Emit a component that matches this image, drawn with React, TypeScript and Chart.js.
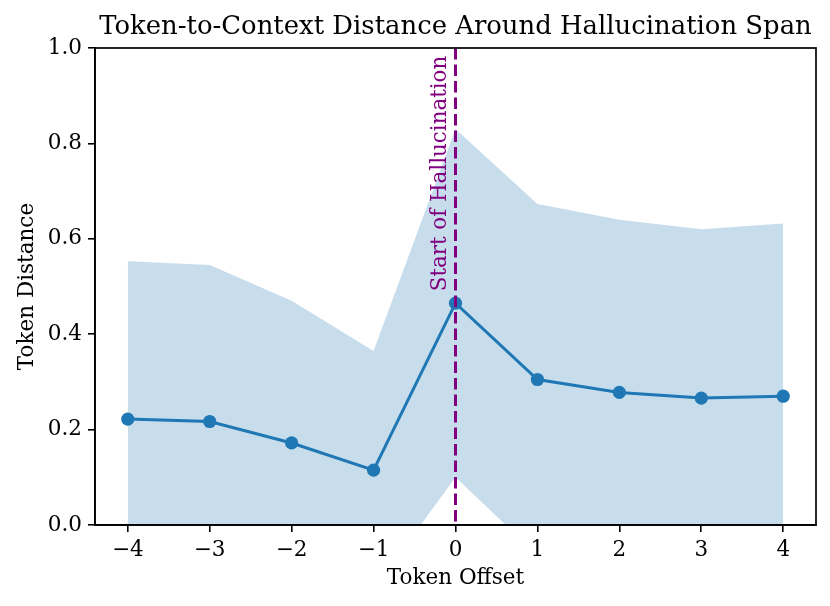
import React, { useEffect, useRef } from "react";
import { Chart, registerables } from "chart.js";

Chart.register(...registerables);

const offsets = [-4, -3, -2, -1, 0, 1, 2, 3, 4];
const meanValues = [0.222, 0.217, 0.172, 0.115, 0.465, 0.305, 0.278, 0.266, 0.27];
const upperValues = [0.553, 0.545, 0.47, 0.365, 0.83, 0.673, 0.64, 0.62, 0.632];
const lowerValues = [-0.109, -0.111, -0.126, -0.135, 0.1, -0.063, -0.084, -0.088, -0.092];
const yTicks = [0, 0.2, 0.4, 0.6, 0.8, 1.0];

const titleText = "Token-to-Context Distance Around Hallucination Span";
const xLabel = "Token Offset";
const yLabel = "Token Distance";
const markerLabel = "Start of Hallucination";
const markerAt = 0;

const FONT = "'DejaVu Serif', serif";
const BLUE = "#1f77b4";
const PURPLE = "#800080";

const W = 830;
const H = 606;

export default function App() {
  const ref = useRef<HTMLCanvasElement | null>(null);

  useEffect(() => {
    if (!ref.current) return;
    const pts = (vals: number[]) => offsets.map((x, i) => ({ x, y: vals[i] }));

    const decor = {
      id: "decor",
      afterDatasetsDraw(chart: any) {
        const { ctx, chartArea, scales } = chart;
        const xs = scales.x;
        const px = xs.getPixelForValue(markerAt);
        ctx.save();
        ctx.beginPath();
        ctx.rect(chartArea.left, chartArea.top, chartArea.right - chartArea.left, chartArea.bottom - chartArea.top);
        ctx.clip();
        ctx.strokeStyle = PURPLE;
        ctx.lineWidth = 3;
        ctx.setLineDash([11.5, 5]);
        ctx.beginPath();
        ctx.moveTo(px, chartArea.top);
        ctx.lineTo(px, chartArea.bottom);
        ctx.stroke();
        ctx.restore();

        ctx.save();
        ctx.translate(px - 15, scales.y.getPixelForValue(0.49));
        ctx.rotate(-Math.PI / 2);
        ctx.fillStyle = PURPLE;
        ctx.font = `21.4px ${FONT}`;
        ctx.textAlign = "left";
        ctx.textBaseline = "middle";
        ctx.fillText(markerLabel, 0, 0);
        ctx.restore();
      },
      afterDraw(chart: any) {
        const { ctx, chartArea } = chart;
        ctx.save();
        ctx.strokeStyle = "#000";
        ctx.lineWidth = 1.7;
        ctx.strokeRect(chartArea.left, chartArea.top, chartArea.right - chartArea.left, chartArea.bottom - chartArea.top);
        ctx.fillStyle = "#000";
        ctx.textAlign = "center";
        ctx.textBaseline = "middle";
        ctx.font = `25.9px ${FONT}`;
        ctx.fillText(titleText, (chartArea.left + chartArea.right) / 2, 27);
        ctx.font = `21.5px ${FONT}`;
        ctx.fillText(xLabel, (chartArea.left + chartArea.right) / 2, 578);
        ctx.save();
        ctx.translate(27, (chartArea.top + chartArea.bottom) / 2);
        ctx.rotate(-Math.PI / 2);
        ctx.fillText(yLabel, 0, 0);
        ctx.restore();
        ctx.restore();
      },
    };

    const chart = new Chart(ref.current, {
      type: "line",
      data: {
        datasets: [
          {
            label: "mean",
            data: pts(meanValues),
            borderColor: BLUE,
            backgroundColor: BLUE,
            borderWidth: 3,
            pointRadius: 6.6,
            pointHoverRadius: 6.6,
            pointBackgroundColor: BLUE,
            pointBorderWidth: 0,
            fill: false,
            tension: 0,
            order: 0,
          },
          {
            label: "upper",
            data: pts(upperValues),
            borderWidth: 0,
            borderColor: "rgba(0,0,0,0)",
            backgroundColor: "rgba(31,119,180,0.25)",
            pointRadius: 0,
            fill: "+1",
            tension: 0,
            order: 1,
          },
          {
            label: "lower",
            data: pts(lowerValues),
            borderWidth: 0,
            borderColor: "rgba(0,0,0,0)",
            backgroundColor: "rgba(31,119,180,0.25)",
            pointRadius: 0,
            fill: false,
            tension: 0,
            order: 2,
          },
        ],
      },
      options: {
        responsive: false,
        animation: false,
        devicePixelRatio: 1,
        layout: { padding: { top: 48, right: 14, left: 0, bottom: 0 } },
        plugins: {
          legend: { display: false },
          title: { display: false },
          tooltip: { enabled: false },
        },
        scales: {
          x: {
            type: "linear",
            min: -4.4,
            max: 4.4,
            afterBuildTicks: (s: any) => {
              s.ticks = offsets.map((v) => ({ value: v }));
            },
            afterFit: (s: any) => {
              s.height = 81;
            },
            grid: { drawOnChartArea: false, drawTicks: true, tickLength: 7, color: "#000", lineWidth: 1.6 },
            border: { display: true, color: "#000", width: 1.7 },
            ticks: {
              color: "#000",
              font: { family: FONT, size: 21.5 },
              padding: 6,
              maxRotation: 0,
              callback: (v: any) => (v < 0 ? "\u2212" + Math.abs(v) : String(v)),
            },
          },
          y: {
            type: "linear",
            min: 0,
            max: 1,
            afterBuildTicks: (s: any) => {
              s.ticks = yTicks.map((v) => ({ value: v }));
            },
            afterFit: (s: any) => {
              s.width = 95;
            },
            grid: { drawOnChartArea: false, drawTicks: true, tickLength: 7, color: "#000", lineWidth: 1.6 },
            border: { display: true, color: "#000", width: 1.7 },
            ticks: {
              color: "#000",
              font: { family: FONT, size: 21.5 },
              padding: 6,
              callback: (v: any) => Number(v).toFixed(1),
            },
          },
        },
      },
      plugins: [decor],
    });
    return () => chart.destroy();
  }, []);

  return (
    <div style={{ position: "absolute", left: 0, top: 0, width: W, height: H, background: "#fff" }}>
      <canvas ref={ref} width={W} height={H} style={{ width: W, height: H, display: "block" }} />
    </div>
  );
}
